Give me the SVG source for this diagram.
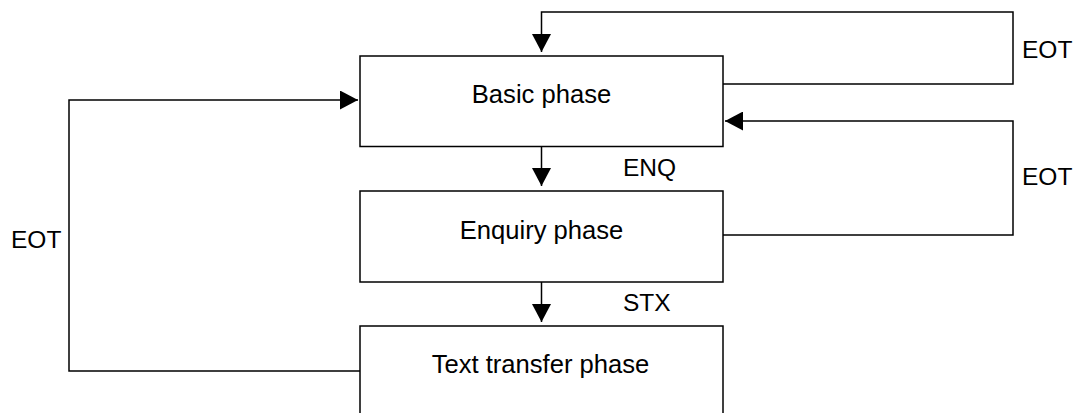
<svg xmlns="http://www.w3.org/2000/svg" width="1076" height="413" viewBox="0 0 1076 413">
  <style>
    .box { fill: #ffffff; stroke: #000000; stroke-width: 1.5; }
    .wire { fill: none; stroke: #000000; stroke-width: 1.5; }
    .label { font-family: "Liberation Sans", Arial, sans-serif; font-size: 25.6px; fill: #000000; }
    .tag { font-family: "Liberation Sans", Arial, sans-serif; font-size: 24.5px; fill: #000000; }
  </style>
  <defs>
    <marker id="arrow" markerUnits="userSpaceOnUse" markerWidth="18" markerHeight="19" refX="18" refY="9.5" orient="auto">
      <path d="M0,0 L18,9.5 L0,19 z" fill="#000000"/>
    </marker>
  </defs>
  <rect width="1076" height="413" fill="#ffffff"/>

  <g id="connectors">
    <!-- EOT from basic phase back to itself -->
    <path class="wire" d="M723,84 H1013 V12 H541.5 V52" marker-end="url(#arrow)"/>
    <!-- EOT from enquiry phase back to basic phase -->
    <path class="wire" d="M723,235 H1013 V121 H725" marker-end="url(#arrow)"/>
    <!-- ENQ -->
    <path class="wire" d="M541.5,147 V186" marker-end="url(#arrow)"/>
    <!-- STX -->
    <path class="wire" d="M541.5,282 V322" marker-end="url(#arrow)"/>
    <!-- EOT from text transfer phase back to basic phase -->
    <path class="wire" d="M360,371 H69 V100 H358" marker-end="url(#arrow)"/>
    <text class="tag" x="1022" y="58">EOT</text>
    <text class="tag" x="1022" y="184.5">EOT</text>
    <text class="tag" x="11" y="248">EOT</text>
    <text class="tag" x="623" y="176">ENQ</text>
    <text class="tag" x="623" y="311">STX</text>
  </g>

  <g id="basic-phase">
    <rect class="box" x="360" y="56" width="363" height="90.5"/>
    <text class="label" x="541.5" y="102.5" text-anchor="middle">Basic phase</text>
  </g>

  <g id="enquiry-phase">
    <rect class="box" x="360" y="191" width="363" height="91"/>
    <text class="label" x="541.5" y="238.5" text-anchor="middle">Enquiry phase</text>
  </g>

  <g id="text-transfer-phase">
    <rect class="box" x="360" y="326" width="363" height="100"/>
    <text class="label" x="540.5" y="372.5" text-anchor="middle">Text transfer phase</text>
  </g>
</svg>
